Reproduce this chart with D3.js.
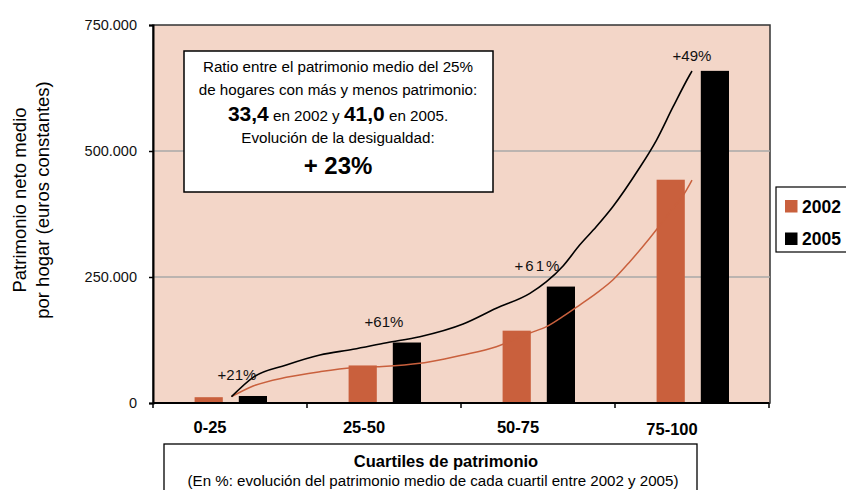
<!DOCTYPE html>
<html>
<head>
<meta charset="utf-8">
<script src="https://cdn.jsdelivr.net/npm/d3@7"></script>
<style>
  body { margin: 0; background: #fff; }
  svg { display: block; font-family: "Liberation Sans", Arial, sans-serif; }
</style>
</head>
<body>
<svg id="chart" width="846" height="490"></svg>
<script>
// quartiles of household wealth
const categories = ["0-25", "25-50", "50-75", "75-100"];
const years = ["2002", "2005"];
// mean net wealth per household (constant euros)
const values2002 = [11500, 74500, 143500, 443000];
const values2005 = [13900, 120000, 231000, 659000];
const changeLabels = ["+21%", "+61%", "+61%", "+49%"];
const yTicks = [0, 250000, 500000, 750000];

// percentile curves
const pctl2002 = [0, 4.7, 11.9, 19.2, 26.3, 31.5, 40.9, 43.1, 50.2, 57.5, 64.8, 68.4, 71.9, 75.6, 79.2, 82.8, 86.5, 90.8, 95.1, 98.4, 100];
const curve2002 = [12500, 33700, 51000, 62100, 70000, 72000, 78800, 82000, 95200, 111700, 138900, 151400, 171200, 194400, 217600, 244000, 280300, 327000, 377000, 416600, 442400];
const pctl2005 = [0, 4.7, 11.9, 19.2, 26.4, 33.7, 40.9, 50.3, 57.5, 64.8, 68.4, 72.0, 75.6, 79.2, 82.8, 88.3, 92.3, 95.9, 99.5, 100];
const curve2005 = [12500, 51000, 75400, 95200, 106500, 119600, 131500, 156700, 187900, 217600, 240700, 272000, 313500, 349800, 389500, 462300, 521800, 587900, 650800, 658700];

const colors = { "2002": "#c9603d", "2005": "#000000" };
const bg = "#f3d6c8";

const svg = d3.select("#chart");
const m = { left: 153, top: 25, right: 770, bottom: 403 };

const x0 = d3.scaleBand().domain(categories).range([m.left, 769]).padding(0);
const x1 = d3.scaleBand().domain(years).range([41.6, 114]).paddingInner(0.362);
const y = d3.scaleLinear().domain([0, 750000]).range([m.bottom, m.top]);
const half = x0.bandwidth() / 2;
const xp = d3.scaleLinear().domain([0, 100])
  .range([x0(categories[0]) + half + 1.5, x0(categories[3]) + half]);

const fmt = d3.formatLocale({ decimal: ",", thousands: ".", grouping: [3], currency: ["", " €"] }).format(",");

// plot background
svg.append("rect")
  .attr("x", m.left).attr("y", m.top)
  .attr("width", m.right - m.left).attr("height", m.bottom - m.top)
  .attr("fill", bg)
  .attr("stroke", "#333").attr("stroke-width", 1.5);

// gridlines
svg.append("g").selectAll("line")
  .data(yTicks.filter(d => d > 0 && d < 750000))
  .join("line")
  .attr("x1", m.left).attr("x2", m.right)
  .attr("y1", d => y(d)).attr("y2", d => y(d))
  .attr("stroke", "#a9a9a9").attr("stroke-width", 1.3);

// info box
const box = svg.append("g");
box.append("rect")
  .attr("x", 184).attr("y", 51).attr("width", 309).attr("height", 141)
  .attr("fill", "#fff").attr("stroke", "#000").attr("stroke-width", 1.5);
const bx = 338;
const fs = 15.2;
box.append("text").attr("x", bx).attr("y", 72).attr("text-anchor", "middle")
  .attr("font-size", fs).text("Ratio entre el patrimonio medio del 25%");
box.append("text").attr("x", bx).attr("y", 95).attr("text-anchor", "middle")
  .attr("font-size", fs).text("de hogares con más y menos patrimonio:");
const l3 = box.append("text").attr("x", bx).attr("y", 121).attr("text-anchor", "middle")
  .attr("font-size", fs);
l3.append("tspan").attr("font-weight", "bold").attr("font-size", 21).text("33,4");
l3.append("tspan").text(" en 2002 y  ");
l3.append("tspan").attr("font-weight", "bold").attr("font-size", 21).text("41,0");
l3.append("tspan").text(" en 2005.");
box.append("text").attr("x", bx).attr("y", 143).attr("text-anchor", "middle")
  .attr("font-size", fs).text("Evolución de la desigualdad:");
box.append("text").attr("x", bx).attr("y", 174).attr("text-anchor", "middle")
  .attr("font-size", 24).attr("font-weight", "bold").text("+ 23%");

// bars
const rows = categories.map((c, i) => ({ cat: c, vals: [values2002[i], values2005[i]] }));
svg.append("g").selectAll("g")
  .data(rows)
  .join("g")
  .attr("transform", d => `translate(${x0(d.cat)},0)`)
  .selectAll("rect")
  .data(d => d.vals.map((v, j) => ({ year: years[j], v })))
  .join("rect")
  .attr("x", d => x1(d.year))
  .attr("width", x1.bandwidth())
  .attr("y", d => y(d.v))
  .attr("height", d => y(0) - y(d.v))
  .attr("fill", d => colors[d.year]);

// percentile curves
const line = d3.line().x(d => xp(d[0])).y(d => y(d[1])).curve(d3.curveMonotoneX);
svg.append("path")
  .datum(pctl2002.map((p, i) => [p, curve2002[i]]))
  .attr("d", line).attr("fill", "none")
  .attr("stroke", colors["2002"]).attr("stroke-width", 1.5);
svg.append("path")
  .datum(pctl2005.map((p, i) => [p, curve2005[i]]))
  .attr("d", line).attr("fill", "none")
  .attr("stroke", colors["2005"]).attr("stroke-width", 1.6);

// change labels
svg.append("g").selectAll("text")
  .data(changeLabels)
  .join("text")
  .attr("x", (d, i) => x0(categories[i]) + half + (i === 0 ? 7 : 0))
  .attr("y", (d, i) => y(values2005[i]) - (i === 3 ? 10 : 16))
  .attr("text-anchor", "middle")
  .attr("font-size", 15)
  .attr("letter-spacing", (d, i) => i === 2 ? 2 : 0)
  .attr("fill", "#111")
  .text(d => d);

// y axis
const yAxis = svg.append("g")
  .attr("transform", `translate(${m.left},0)`)
  .call(d3.axisLeft(y).tickValues(yTicks).tickFormat(fmt).tickSize(4).tickPadding(12));
yAxis.select(".domain").attr("stroke", "#000").attr("stroke-width", 2);
yAxis.selectAll(".tick line").attr("stroke", "#000").attr("stroke-width", 1.5);
yAxis.selectAll(".tick text").attr("font-size", 14.5).attr("fill", "#111")
  .attr("font-family", "Liberation Sans, Arial, sans-serif");

// x axis
const xa = svg.append("g");
xa.append("line")
  .attr("x1", m.left).attr("x2", x0.range()[1])
  .attr("y1", m.bottom).attr("y2", m.bottom)
  .attr("stroke", "#000").attr("stroke-width", 2);
xa.selectAll(".xt")
  .data(categories.map(c => x0(c)).concat([x0.range()[1]]))
  .join("line")
  .attr("class", "xt")
  .attr("x1", d => d).attr("x2", d => d)
  .attr("y1", m.bottom).attr("y2", m.bottom + 5)
  .attr("stroke", "#000").attr("stroke-width", 1.5);
xa.selectAll(".xl")
  .data(categories)
  .join("text")
  .attr("class", "xl")
  .attr("x", d => x0(d) + half - 20)
  .attr("y", (d, i) => i === 3 ? 435 : 433)
  .attr("text-anchor", "middle")
  .attr("font-size", 16.5).attr("font-weight", "bold")
  .text(d => d);

// y title
const yt = svg.append("text")
  .attr("transform", "translate(26,200) rotate(-90)")
  .attr("text-anchor", "middle").attr("font-size", 18.5);
yt.append("tspan").attr("x", 0).attr("y", 0).text("Patrimonio neto medio");
yt.append("tspan").attr("x", 0).attr("y", 23).text("por hogar (euros constantes)");

// x title box
svg.append("rect")
  .attr("x", 164).attr("y", 444).attr("width", 533).attr("height", 60)
  .attr("fill", "#fff").attr("stroke", "#000").attr("stroke-width", 1.3);
svg.append("text").attr("x", 446).attr("y", 467).attr("text-anchor", "middle")
  .attr("font-size", 16.5).attr("font-weight", "bold").text("Cuartiles de patrimonio");
svg.append("text").attr("x", 433).attr("y", 486).attr("text-anchor", "middle")
  .attr("font-size", 15.1).text("(En %: evolución del patrimonio medio de cada cuartil entre 2002 y 2005)");

// legend
const lg = svg.append("g");
lg.append("rect")
  .attr("x", 776).attr("y", 187).attr("width", 90).attr("height", 65)
  .attr("fill", "#fff").attr("stroke", "#000").attr("stroke-width", 1.2);
lg.selectAll(".sw")
  .data(years)
  .join("rect")
  .attr("class", "sw")
  .attr("x", 785).attr("y", (d, i) => 200 + i * 32.5)
  .attr("width", 12.5).attr("height", 12.5)
  .attr("fill", d => colors[d]);
lg.selectAll(".lt")
  .data(years)
  .join("text")
  .attr("class", "lt")
  .attr("x", 802).attr("y", (d, i) => 212.5 + i * 32)
  .attr("font-size", 17.5).attr("font-weight", "bold")
  .text(d => d);
</script>
</body>
</html>
